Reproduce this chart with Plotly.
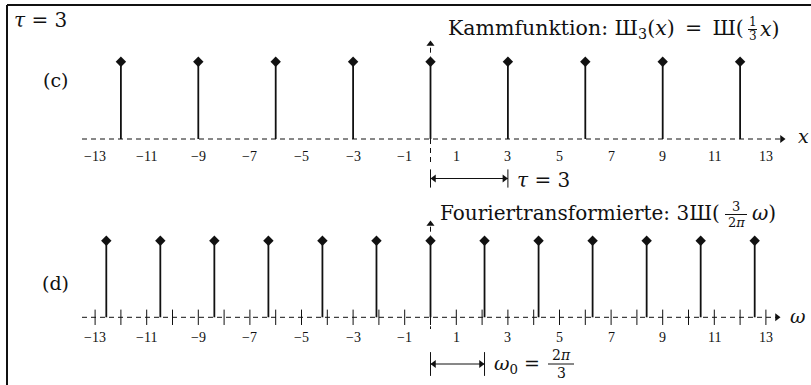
import plotly.graph_objects as go

# ---------------- data ----------------
comb_x = [-12, -9, -6, -3, 0, 3, 6, 9, 12]          # III_3(x): impulses every tau = 3
comb_h = [1, 1, 1, 1, 1, 1, 1, 1, 1]
ft_w = [-12.566, -10.472, -8.378, -6.283, -4.189, -2.094, 0.0,
        2.094, 4.189, 6.283, 8.378, 10.472, 12.566]     # multiples of 2*pi/3
ft_h = [3, 3, 3, 3, 3, 3, 3, 3, 3, 3, 3, 3, 3]          # 3 * III(3/(2pi) w)
tick_labels = [-13, -11, -9, -7, -5, -3, -1, 1, 3, 5, 7, 9, 11, 13]
minor_ticks = [-13, -12, -11, -10, -9, -8, -7, -6, -5, -4, -3, -2, -1, 0,
               1, 2, 3, 4, 5, 6, 7, 8, 9, 10, 11, 12, 13]
tau = 3
omega0 = 2.094

# ---------------- geometry helpers ----------------
W, H = 811, 385
X0PX, XS = 430.5, 25.8
xr = [-X0PX / XS, (W - X0PX) / XS]
T0, TS = 139.0, 77.3            # top panel: y=0 at px 139, 1 unit = 77.3 px
B0, BS = 317.3, 76.6 / 3        # bottom panel: y=0 at px 317.3, 3 units = 76.6 px
yr1 = [-(H - T0) / TS, T0 / TS]
yr2 = [-(H - B0) / BS, B0 / BS]


def ty(p):
    return (T0 - p) / TS


def by(p):
    return (B0 - p) / BS


def pxx(p):
    return (p - X0PX) / XS


def PX(p):
    return p / W


def PY(p):
    return 1 - p / H


BLACK = "#111111"
SERIF = "Liberation Serif"
MATH = "DejaVu Serif"
fig = go.Figure()


def stems(xs, hs, yaxis):
    sx, sy = [], []
    for xi, hi in zip(xs, hs):
        sx += [xi, xi, None]
        sy += [0, hi, None]
    fig.add_trace(go.Scatter(x=sx, y=sy, mode="lines", yaxis=yaxis,
                             line=dict(color=BLACK, width=1.8), hoverinfo="skip"))
    fig.add_trace(go.Scatter(x=xs, y=hs, mode="markers", yaxis=yaxis,
                             marker=dict(symbol="diamond", size=8, color=BLACK),
                             hoverinfo="skip"))


def seg(x, y, yaxis, dash=None, width=1):
    fig.add_trace(go.Scatter(x=x, y=y, mode="lines", yaxis=yaxis,
                             line=dict(color=BLACK, width=width, dash=dash),
                             hoverinfo="skip"))


def mk(x, y, yaxis, symbol, size=7, lw=0):
    fig.add_trace(go.Scatter(x=x, y=y, mode="markers", yaxis=yaxis,
                             marker=dict(symbol=symbol, size=size, color=BLACK,
                                         line=dict(color=BLACK, width=lw)),
                             hoverinfo="skip"))


DASH = "5px,4px"

# ---------- top panel (c) ----------
seg([pxx(82), pxx(781)], [0, 0], "y", DASH)
mk([pxx(782)], [0], "y", "triangle-right", 7)
seg([0, 0], [1, ty(46)], "y", DASH)
mk([0], [ty(44)], "y", "triangle-up", 7)
seg([0, 0], [0, ty(163)], "y", DASH)
stems(comb_x, comb_h, "y")
# tau arrow
ya = ty(178.5)
seg([0, tau], [ya, ya], "y")
mk([pxx(X0PX + 3.5)], [ya], "y", "triangle-left", 7)
mk([tau - 3.5 / XS], [ya], "y", "triangle-right", 7)
mk([0, tau], [ya, ya], "y", "line-ns", 13, 1)

# ---------- bottom panel (d) ----------
seg([pxx(82), pxx(776)], [0, 0], "y2", DASH)
mk([pxx(777)], [0], "y2", "triangle-right", 7)
mk(minor_ticks, [0] * len(minor_ticks), "y2", "line-ns", 11, 1)
seg([0, 0], [3, by(226)], "y2", DASH)
mk([0], [by(224)], "y2", "triangle-up", 7)
seg([0, 0], [0, by(329)], "y2", DASH)
stems(ft_w, ft_h, "y2")
yb = by(364)
seg([0, omega0], [yb, yb], "y2")
mk([pxx(X0PX + 3.5)], [yb], "y2", "triangle-left", 7)
mk([omega0 - 3.5 / XS], [yb], "y2", "triangle-right", 7)
mk([0, omega0], [yb, yb], "y2", "line-ns", 17, 1)

# ---------- annotations ----------
ann = []


def txt(text, x, y, size, xanchor="center", yanchor="middle", xref="paper", family=MATH):
    ann.append(dict(text=text, x=x, y=y, xref=xref, yref="paper", showarrow=False,
                    xanchor=xanchor, yanchor=yanchor,
                    font=dict(family=family, size=size, color=BLACK)))


def lab(v):
    return ("\u2212" + str(-v)) if v < 0 else str(v)


for v in tick_labels:
    txt(lab(v), v, PY(156), 14, xref="x", family=SERIF)
    txt(lab(v), v, PY(337), 14, xref="x", family=SERIF)

txt("<i>τ</i> = 3", PX(12), PY(20), 20, xanchor="left")
txt("(c)", PX(55), PY(80), 19)
txt("(d)", PX(55), PY(283), 19)
txt("<i>x</i>", PX(803), PY(136), 19)
txt("<i>ω</i>", PX(798), PY(316), 19)
txt("<i>τ</i> = 3", PX(515), PY(180), 20, xanchor="left")

# Kammfunktion title with stacked fraction 1/3
txt("Kammfunktion: Ш<sub>3</sub>(<i>x</i>)\u2002=\u2002Ш(", PX(746), PY(29), 20.5, xanchor="right")
txt("1", PX(752.5), PY(22.5), 12)
txt("3", PX(752.5), PY(36.5), 12)
txt("<i>x</i>)", PX(758), PY(29), 20.5, xanchor="left")

# Fourier title with stacked fraction 3/(2pi)
txt("Fouriertransformierte: 3Ш(", PX(722), PY(213), 20, xanchor="right")
txt("3", PX(736), PY(206.5), 13)
txt("2<i>π</i>", PX(736), PY(222.5), 13)
txt("<i>ω</i>)", PX(750), PY(213), 20, xanchor="left")

# omega_0 = 2pi/3
txt("<i>ω</i><sub>0</sub> =", PX(492), PY(364), 19, xanchor="left")
txt("2<i>π</i>", PX(561), PY(355), 14)
txt("3", PX(561), PY(373), 14)

shapes = [
    dict(type="line", xref="paper", yref="paper", x0=PX(7), x1=1.0, y0=PY(5), y1=PY(5),
         line=dict(color=BLACK, width=2)),
    dict(type="line", xref="paper", yref="paper", x0=PX(7), x1=PX(7), y0=0, y1=PY(5),
         line=dict(color=BLACK, width=2)),
    dict(type="line", xref="paper", yref="paper", x0=PX(748), x1=PX(757), y0=PY(29.5), y1=PY(29.5),
         line=dict(color=BLACK, width=1)),
    dict(type="line", xref="paper", yref="paper", x0=PX(725), x1=PX(747), y0=PY(214.5), y1=PY(214.5),
         line=dict(color=BLACK, width=1)),
    dict(type="line", xref="paper", yref="paper", x0=PX(548), x1=PX(574), y0=PY(364), y1=PY(364),
         line=dict(color=BLACK, width=1)),
]

fig.update_layout(
    width=W, height=H, margin=dict(l=0, r=0, t=0, b=0),
    paper_bgcolor="white", plot_bgcolor="white", showlegend=False,
    xaxis=dict(range=xr, visible=False, fixedrange=True),
    yaxis=dict(range=yr1, visible=False, domain=[0, 1], fixedrange=True),
    yaxis2=dict(range=yr2, visible=False, overlaying="y", fixedrange=True),
    annotations=ann, shapes=shapes,
)
fig.write_html(
    "out.html",
    config={"displayModeBar": False},
    post_script="document.body.style.margin='0';document.body.style.overflow='hidden';",
)
